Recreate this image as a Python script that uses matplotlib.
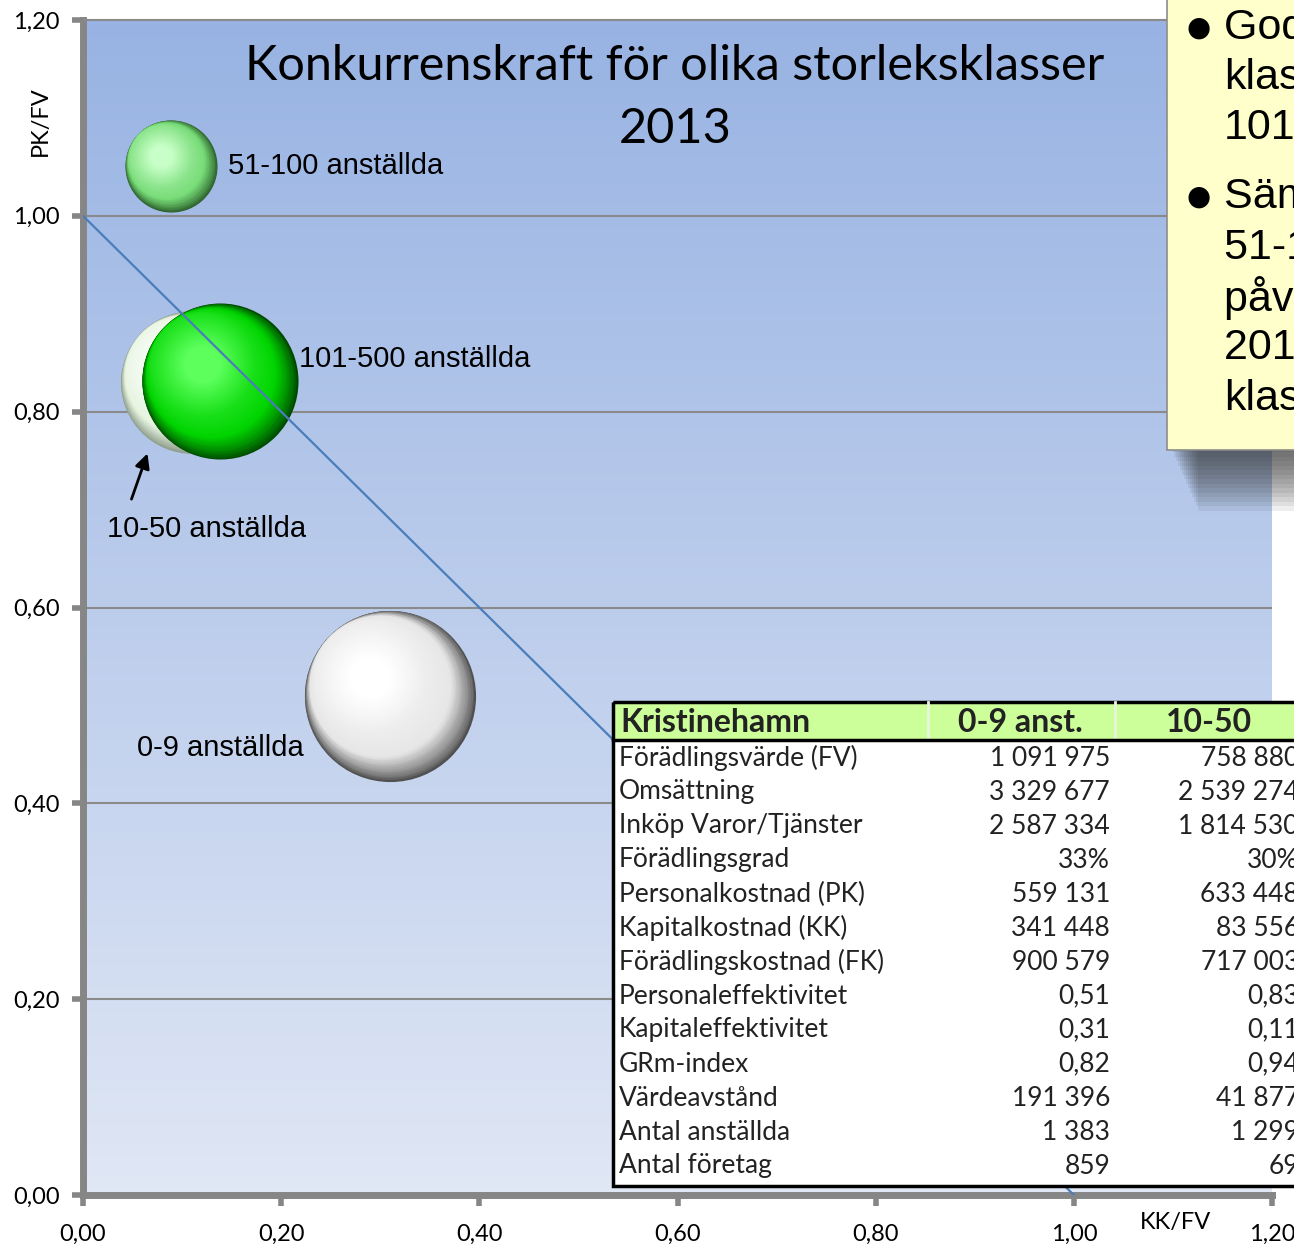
import numpy as np
import matplotlib.pyplot as plt
from matplotlib import transforms
from matplotlib.patches import Rectangle
from matplotlib.colors import to_rgb

# bubbles: KK/FV (x), PK/FV (y), förädlingsvärde (bubble size)
classes = ["0-9 anställda", "10-50 anställda", "101-500 anställda", "51-100 anställda"]
kk_fv = [0.31, 0.11, 0.138, 0.089]
pk_fv = [0.51, 0.83, 0.831, 1.051]
fv = [1091975, 758880, 908000, 316000]

# break-even line
line_x = [0.0, 1.0]
line_y = [1.0, 0.0]

ticks = [0.0, 0.2, 0.4, 0.6, 0.8, 1.0, 1.2]
tick_labels = ["0,00", "0,20", "0,40", "0,60", "0,80", "1,00", "1,20"]

# table
table_header = ["Kristinehamn", "0-9 anst.", "10-50"]
row_names = ["Förädlingsvärde (FV)", "Omsättning", "Inköp Varor/Tjänster", "Förädlingsgrad",
             "Personalkostnad (PK)", "Kapitalkostnad (KK)", "Förädlingskostnad (FK)",
             "Personaleffektivitet", "Kapitaleffektivitet", "GRm-index", "Värdeavstånd",
             "Antal anställda", "Antal företag"]
col_0_9 = ["1 091 975", "3 329 677", "2 587 334", "33%", "559 131", "341 448", "900 579",
           "0,51", "0,31", "0,82", "191 396", "1 383", "859"]
col_10_50 = ["758 880", "2 539 274", "1 814 530", "30%", "633 448", "83 556", "717 003",
             "0,83", "0,11", "0,94", "41 877", "1 299", "69"]

note_bullets = [["Godast i", "klassen", "101-500"],
                ["Sämst är", "51-100 som", "påverkats av", "2012 års", "klassning"]]


def blend(c1, c2, t):
    a = np.array(to_rgb(c1))
    b = np.array(to_rgb(c2))
    return tuple(a + (b - a) * np.clip(t, 0, 1))


def draw_sphere(ax, x, y, s, rim, body, light, z):
    # stack of shrinking discs shifted towards the highlight (upper left)
    R = np.sqrt(s) / 2.0
    n = 70
    for i in range(n):
        t = i / (n - 1)
        r = R * (1 - 0.85 * t)
        d = R * min(0.8 * t, 0.32)
        if t < 0.2:
            col = blend(rim, body, (t / 0.2) ** 0.8)
        else:
            col = blend(body, light, (t - 0.2) / 0.7)
        tr = transforms.offset_copy(ax.transData, fig=ax.figure, x=-d * 0.72, y=d * 0.69, units='points')
        ax.scatter([x], [y], s=(2 * r) ** 2, color=[col], transform=tr, linewidths=0, zorder=z)


def main():
    W, H = 1294, 1244
    fig = plt.figure(figsize=(W / 100, H / 100), dpi=100)
    ax = fig.add_axes((83 / W, 49 / H, 1189 / W, 1175 / H))

    # gradient plot area
    top = np.array(to_rgb('#98b3e3'))
    bot = np.array(to_rgb('#e0e7f5'))
    g = np.linspace(0, 1, 256)[:, None, None]
    grad = top + (bot - top) * g
    ax.imshow(grad, extent=[0, 1.2, 0, 1.2], aspect='auto', origin='upper', zorder=0)

    ax.set_xlim(0, 1.2)
    ax.set_ylim(0, 1.2)
    ax.set_axisbelow(True)
    ax.yaxis.grid(True, color='#8a8a8a', lw=1.5)
    ax.set_xticks(ticks)
    ax.set_xticklabels(tick_labels)
    ax.set_yticks(ticks)
    ax.set_yticklabels(tick_labels)
    ax.tick_params(length=8, width=4, color='#868686', labelsize=17, pad=9)
    for lab in ax.get_xticklabels() + ax.get_yticklabels():
        lab.set_family('Lato')
    ax.tick_params(axis='x', pad=13)
    for side in ['left', 'bottom']:
        ax.spines[side].set_color('#868686')
        ax.spines[side].set_linewidth(5)
    ax.spines['top'].set_color('#8a8a8a')
    ax.spines['top'].set_linewidth(1.5)
    ax.spines['right'].set_visible(False)

    scale = 15180 / fv[0]
    styles = [('#505050', '#e6e6e6', '#ffffff'),
              ('#8a9a88', '#e6f4e0', '#ffffff'),
              ('#004a00', '#00d400', '#5cff5c'),
              ('#2a5e2a', '#78dc78', '#c8ffc8')]
    for i in range(len(classes)):
        rim, body, light = styles[i]
        draw_sphere(ax, kk_fv[i], pk_fv[i], fv[i] * scale, rim, body, light, 3 + i)

    ax.plot(line_x, line_y, color='#4a7ebb', lw=1.6, zorder=10)

    lab_font = dict(family='Liberation Sans', fontsize=21, va='center', zorder=11)
    ax.text(0.146, 1.051, classes[3], **lab_font)
    ax.text(0.218, 0.854, classes[2], **lab_font)
    ax.text(0.024, 0.680, classes[1], **lab_font)
    ax.text(0.0545, 0.457, classes[0], **lab_font)
    ax.annotate('', xy=(0.066, 0.760), xytext=(0.048, 0.708),
                arrowprops=dict(arrowstyle='-|>', color='black', lw=2, mutation_scale=22), zorder=11)

    ax.text(0.498, (1195 - 66) / 1175, "Konkurrenskraft för olika storleksklasser", transform=ax.transAxes,
            ha='center', va='center', fontsize=35, family='Lato', zorder=11)
    ax.text(0.498, (1195 - 129) / 1175, "2013", transform=ax.transAxes,
            ha='center', va='center', fontsize=35, family='Lato', zorder=11)
    ax.text((1176 - 83) / 1189, (1195 - 1222) / 1175, "KK/FV", transform=ax.transAxes,
            ha='center', va='center', fontsize=17, family='Lato')

    # overlay in pixel coordinates for the table and the note
    ov = fig.add_axes((0, 0, 1, 1))
    ov.set_xlim(0, W)
    ov.set_ylim(H, 0)
    ov.axis('off')
    ov.patch.set_visible(False)

    ov.text(40, 121, "PK/FV", rotation=90, ha='center', va='center', fontsize=17, family='Lato')

    # table
    tl, tt, rh = 613, 702, 34
    ov.add_patch(Rectangle((tl, tt), W - tl + 10, 38, facecolor='#ccff99', edgecolor='none'))
    ov.add_patch(Rectangle((tl, tt + 38), W - tl + 10, rh * 13 + 4, facecolor='white', edgecolor='none'))
    for xs in [928, 1115]:
        ov.plot([xs, xs], [tt, tt + 38], color='#e8f5dd', lw=2)
    ov.plot([tl, W + 5], [tt + 38, tt + 38], color='black', lw=2.5)
    ov.add_patch(Rectangle((tl, tt), W - tl + 20, 38 + rh * 13 + 4, facecolor='none', edgecolor='black', lw=2.5))
    hf = dict(fontsize=23, family='Lato', weight='bold', va='center', color='#222222')
    ov.text(620, tt + 20, table_header[0], ha='left', **hf)
    ov.text(1020, tt + 20, table_header[1], ha='center', **hf)
    ov.text(1209, tt + 20, table_header[2], ha='center', **hf)
    cf = dict(fontsize=19, family='Lato', va='center', color='#222222')
    for i in range(len(row_names)):
        yy = 758 + i * rh
        ov.text(619, yy, row_names[i], ha='left', **cf)
        ov.text(1110, yy, col_0_9[i], ha='right', **cf)
        ov.text(1299, yy, col_10_50[i], ha='right', **cf)

    # note with shadow
    for k in range(14):
        ov.add_patch(Rectangle((1172 + k * 2, -10), W, 462 + k * 4.5, facecolor='#303030',
                               edgecolor='none', alpha=0.08))
    ov.add_patch(Rectangle((1167, -10), W, 460, facecolor='#ffffcc', edgecolor='#8c8c8c', lw=1.2))
    ys = [[28, 78, 128], [197, 248, 298, 348, 399]]
    for b in range(len(note_bullets)):
        ov.text(1199, ys[b][0], "●", ha='center', va='center', fontsize=20, family='DejaVu Sans')
        for j, line in enumerate(note_bullets[b]):
            ov.text(1224, ys[b][j], line, ha='left', va='center', fontsize=31, family='Liberation Sans')

    fig.savefig('out.png', dpi=100)


if __name__ == '__main__':
    main()
